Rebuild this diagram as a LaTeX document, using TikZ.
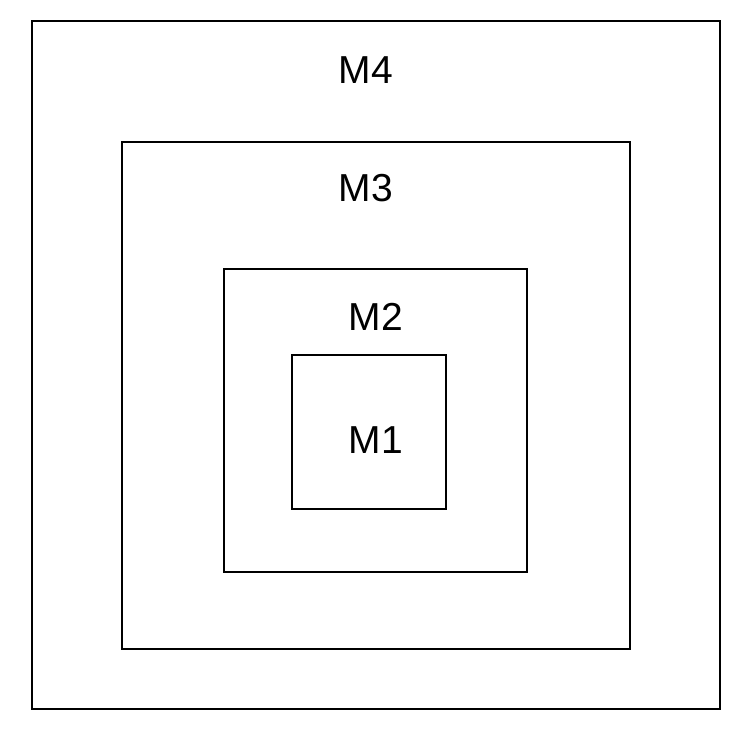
\documentclass[tikz,border=0pt]{standalone}
\usepackage{fontspec}
\setmainfont{Liberation Sans}
\begin{document}
\begin{tikzpicture}[x=1pt,y=-1pt,
  box/.style={draw=black,line width=1.8pt},
  lbl/.style={font=\fontsize{39}{42}\selectfont,inner sep=0pt}]
\useasboundingbox (0,0) rectangle (754,742);
\draw[box] (32,21) rectangle (720,709);
\draw[box] (122,142) rectangle (630,649);
\draw[box] (224,269) rectangle (527,572);
\draw[box] (292,355) rectangle (446,509);
\node[lbl] (m4) at (366,70) {M4};
\node[lbl] (m3) at (366,188) {M3};
\node[lbl] (m2) at (376,317) {M2};
\node[lbl] (m1) at (376,440) {M1};
\end{tikzpicture}
\end{document}
